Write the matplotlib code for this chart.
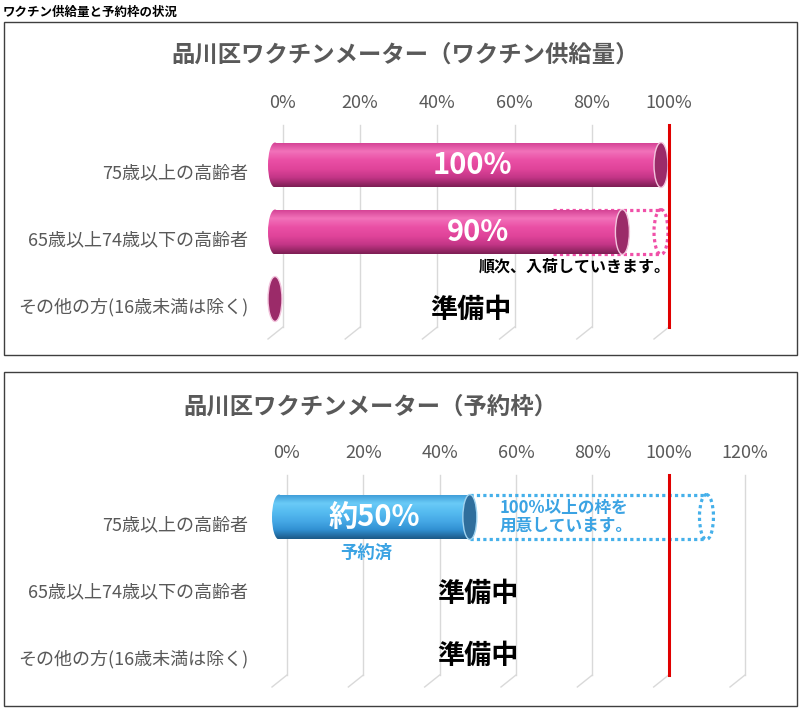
import numpy as np
import matplotlib.pyplot as plt
from matplotlib import patches, transforms
from matplotlib.colors import LinearSegmentedColormap

plt.rcParams['font.family'] = ['Noto Sans CJK JP', 'DejaVu Sans']

W, H = 800, 712

# ---- data ----
caption = 'ワクチン供給量と予約枠の状況'
categories = ['75歳以上の高齢者', '65歳以上74歳以下の高齢者', 'その他の方(16歳未満は除く)']
preparing = '準備中'

supply_title = '品川区ワクチンメーター（ワクチン供給量）'
supply_values = [100, 90, 0]
supply_labels = ['100%', '90%', None]
supply_ticks = [0, 20, 40, 60, 80, 100]
supply_target = 100
supply_pending = (72, 100)      # dotted outline on row 2
supply_note = '順次、入荷していきます。'

booking_title = '品川区ワクチンメーター（予約枠）'
booking_values = [50]
booking_labels = ['約50%']
booking_ticks = [0, 20, 40, 60, 80, 100, 120]
booking_target = 100
booking_frame = (50, 112)       # dotted outline on row 1
booking_note = '100%以上の枠を\n用意しています。'
booking_sub = '予約済'

# ---- styles ----
gray = '#595959'
grid_col = '#D9D9D9'
red = '#E00000'
pink = ['#D23F92', '#F272BA', '#EA4FA5', '#E0449A', '#C23586', '#7E1F54']
pink_cap = '#9B2B69'
pink_dot = '#F050A8'
blue = ['#3C9AD6', '#6ACBF7', '#55BBF0', '#46A9E6', '#3190D2', '#1C5A88']
blue_cap = '#2F6E9C'
blue_txt = '#3BA3E3'
blue_dot = '#45B0EA'


def fy(y):
    return 1 - y / H


def ppx(ax):
    x0, x1 = ax.get_xlim()
    return ax.bbox.width / (x1 - x0)


def ppy(ax):
    y0, y1 = ax.get_ylim()
    return ax.bbox.height / abs(y0 - y1)


fig = plt.figure(figsize=(W / 100, H / 100), dpi=100)
fig.patch.set_facecolor('white')
shift = transforms.ScaledTranslation(-0.08, 0, fig.dpi_scale_trans)


def style_axes(ax, ticks, target):
    ax.set_xticks(ticks)
    ax.set_xticklabels([f'{t}%' for t in ticks])
    ax.xaxis.tick_top()
    ax.tick_params(axis='x', length=0, pad=9, labelsize=13, labelcolor=gray)
    ax.set_yticks([])
    for s in ax.spines.values():
        s.set_visible(False)
    ax.patch.set_alpha(0)
    ybot, ytop = ax.get_ylim()
    sx = 15 / ppx(ax)
    sy = 12 / ppy(ax)
    for t in ticks:
        ax.plot([t, t], [ytop, ybot], color=grid_col, lw=1, clip_on=False, zorder=0)
        ax.plot([t, t - sx], [ybot, ybot + sy], color=grid_col, lw=1, clip_on=False, zorder=0)
    ax.plot([target, target], [ytop, ybot], color=red, lw=2.2, clip_on=False, zorder=6)


def cylinder(ax, y, value, h, colors, cap, cap_edge):
    tr = ax.transData + shift
    cw = 14 / ppx(ax)
    cmap = LinearSegmentedColormap.from_list('cyl', colors)
    grad = np.linspace(0, 1, 64).reshape(-1, 1)
    if value > 0:
        body = patches.Rectangle((0, y - h / 2), value, h, transform=tr, fc='none', ec='none')
        left = patches.Ellipse((0, y), cw, h, transform=tr, fc='none', ec='none')
        for clip in (body, left):
            clip.set_clip_on(False)
            ax.add_patch(clip)
            im = ax.imshow(grad, cmap=cmap, aspect='auto', interpolation='bilinear',
                           extent=(-cw / 2, value, y + h / 2, y - h / 2),
                           transform=tr, zorder=3)
            im.set_clip_path(clip)
            if clip is left:
                im.set_clip_box(fig.bbox)
    ax.add_patch(patches.Ellipse((value, y), cw, h, transform=tr, fc=cap,
                                 ec=cap_edge, lw=1, zorder=4, clip_on=False))


def dotted_frame(ax, y, x0, x1, h, color):
    tr = ax.transData + shift
    cw = 14 / ppx(ax)
    kw = dict(color=color, lw=2.3, ls=(0, (1, 1)), transform=tr, zorder=2, clip_on=False)
    ax.plot([x0, x1], [y - h / 2, y - h / 2], **kw)
    ax.plot([x0, x1], [y + h / 2, y + h / 2], **kw)
    ax.add_patch(patches.Ellipse((x1, y), cw, h, fill=False, ec=color, lw=2.3,
                                 ls=(0, (1, 1)), transform=tr, zorder=2, clip_on=False))


def category_labels(ax, gap):
    tr = ax.get_yaxis_transform() + transforms.ScaledTranslation(-gap / 100, -0.08, fig.dpi_scale_trans)
    for i, c in enumerate(categories):
        ax.text(0, i, c, transform=tr, ha='right', va='center', fontsize=13, color=gray)


# panel frames and caption
for top, bottom in [(22, 355), (372, 706)]:
    fig.add_artist(patches.Rectangle((4 / W, fy(bottom)), 793 / W, (bottom - top) / H,
                                     transform=fig.transFigure, fill=False,
                                     ec='#3F3F3F', lw=1))
fig.text(3 / W, fy(12), caption, fontsize=9, fontweight='bold', va='center', ha='left')

bar_h = 0.67

# ---- panel 1: supply ----
ax1 = fig.add_axes([283 / W, fy(327), (669 - 283) / W, (327 - 125) / H])
ax1.set_xlim(0, 100)
ax1.set_ylim(2.418, -0.597)
style_axes(ax1, supply_ticks, supply_target)
fig.text(405 / W, fy(55), supply_title, fontsize=16.8, fontweight='bold', color=gray,
         ha='center', va='center')
category_labels(ax1, 35)

dotted_frame(ax1, 1, supply_pending[0], supply_pending[1], bar_h, pink_dot)
for i, v in enumerate(supply_values):
    cylinder(ax1, i, v, bar_h, pink, pink_cap, '#F3C4DD')
for i, (lab, lx) in enumerate(zip(supply_labels, [49, 50.5])):
    if lab:
        ax1.text(lx, i, lab, ha='center', va='center', fontsize=21, fontweight='bold',
                 color='white', zorder=7)
ax1.text(100.5, 1.52, supply_note, ha='right', va='center', fontsize=11.5,
         fontweight='bold', color='black', zorder=7)
ax1.text(48.7, 2.16, preparing, ha='center', va='center', fontsize=19.5,
         fontweight='bold', color='black', zorder=7)
ax1.set_xlim(0, 100)
ax1.set_ylim(2.418, -0.597)

# ---- panel 2: booking ----
ax2 = fig.add_axes([287 / W, fy(675), (745 - 287) / W, (675 - 475) / H])
ax2.set_xlim(0, 120)
ax2.set_ylim(2.358, -0.627)
style_axes(ax2, booking_ticks, booking_target)
fig.text(370 / W, fy(407), booking_title, fontsize=16.8, fontweight='bold', color=gray,
         ha='center', va='center')
category_labels(ax2, 39)

dotted_frame(ax2, 0, booking_frame[0], booking_frame[1], bar_h, blue_dot)
for i, v in enumerate(booking_values):
    cylinder(ax2, i, v, bar_h, blue, blue_cap, '#9FD3F0')
    ax2.text(v / 2, i, booking_labels[i], ha='center', va='center', fontsize=21,
             fontweight='bold', color='white', zorder=7,
             transform=ax2.transData + shift)
ax2.text(20.7, 0.54, booking_sub, ha='center', va='center', fontsize=12.5,
         fontweight='bold', color=blue_txt, zorder=7)
ax2.text(55.8, 0.0, booking_note, ha='left', va='center', fontsize=12,
         fontweight='bold', color=blue_txt, linespacing=1.0, zorder=7)
for row, dy in [(1, 0.15), (2, 0.07)]:
    ax2.text(50, row + dy, preparing, ha='center', va='center', fontsize=19.5,
             fontweight='bold', color='black', zorder=7)
ax2.set_xlim(0, 120)
ax2.set_ylim(2.358, -0.627)

fig.savefig('out.png', dpi=100)
